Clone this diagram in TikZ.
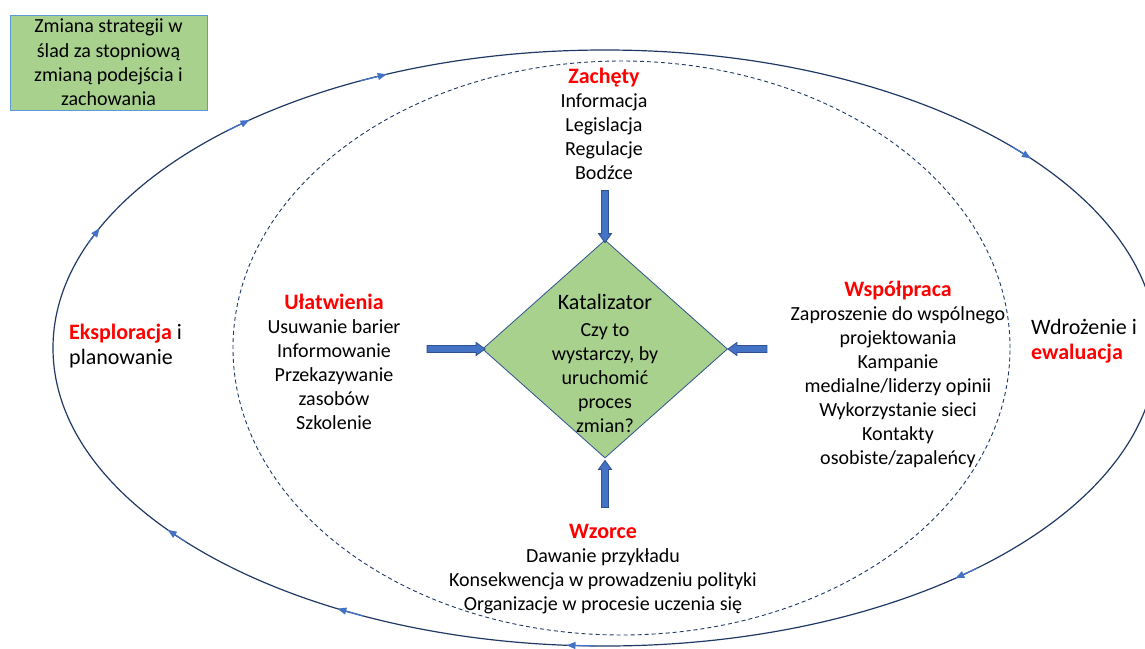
\documentclass[tikz,border=0pt]{standalone}
\usepackage{fontspec}
\setmainfont{Carlito}
\usetikzlibrary{shapes.geometric,arrows.meta,calc}
\definecolor{boxgreen}{HTML}{A9D18E}
\definecolor{boxblue}{HTML}{5B9BD5}
\definecolor{arrblue}{HTML}{4472C4}
\definecolor{arrdark}{HTML}{2F528F}
\definecolor{navy}{HTML}{203864}
\definecolor{hred}{HTML}{FF0000}
\newcommand\headtxt[1]{{\fontsize{22}{24}\selectfont\bfseries\color{hred}#1}}
\begin{document}
\begin{tikzpicture}[x=1pt,y=-1pt,
  body/.style={align=center, font=\fontsize{20}{24}\selectfont, inner sep=0pt},
  outer/.style={align=left, font=\fontsize{22}{25.5}\selectfont, inner sep=0pt, anchor=west},
  bar/.style={draw=arrdark, fill=arrblue, line width=0.8pt, line join=miter},
  cyclehead/.style={arrblue, line width=1.2pt, -{Triangle[length=9pt,width=7pt]}}
]
\clip (0,0) rectangle (1145,648);
\useasboundingbox (0,0) rectangle (1145,648);

% outer cycle
\draw[navy, line width=1.2pt] (605,348) ellipse [x radius=552pt, y radius=298pt];
\foreach \t in {246.7,229.9,203.7,320.5,50.6,94,119,142.4}
  \draw[cyclehead] ({605+552*cos(\t-3)},{348+298*sin(\t-3)}) -- ({605+552*cos(\t)},{348+298*sin(\t)});

% inner dashed ellipse
\draw[navy, line width=0.9pt, dash pattern=on 4pt off 3pt] (621.5,348) ellipse [x radius=388.5pt, y radius=287pt];

% goal box
\node[draw=boxblue, fill=boxgreen, line width=1pt, minimum width=197pt, minimum height=95pt,
  align=center, font=\fontsize{20}{24.3}\selectfont, inner sep=0pt] (goal) at (108.5,62.5)
  {Zmiana strategii w\\ślad za stopniową\\zmianą podejścia i\\zachowania};

% catalyst diamond
\node[diamond, draw=arrdark, fill=boxgreen, line width=0.8pt, minimum width=245pt,
  minimum height=218pt, inner sep=0pt] (cat) at (605,349) {};
\node[body] (cattext) at (605,363)
  {{\fontsize{22}{24}\selectfont Katalizator}\\[3pt]Czy to\\wystarczy, by\\uruchomić\\proces\\zmian?};

% block arrows into the diamond
\draw[bar] ($(cat.north)+(0,3)$) -- ++(-6.5,-9) -- ++(3,0) -- ++(0,-43) -- ++(7,0)
  -- ++(0,43) -- ++(3,0) -- cycle;
\draw[bar] ($(cat.west)+(3,0)$) -- ++(-9,-6.5) -- ++(0,3) -- ++(-49,0) -- ++(0,7)
  -- ++(49,0) -- ++(0,3) -- cycle;
\draw[bar] (cat.east) -- ++(9,-6.5) -- ++(0,3) -- ++(30,0) -- ++(0,7)
  -- ++(-30,0) -- ++(0,3) -- cycle;
\draw[bar] ($(cat.south)+(0,2)$) -- ++(-6.5,9) -- ++(3,0) -- ++(0,38) -- ++(7,0)
  -- ++(0,-38) -- ++(3,0) -- cycle;

% text blocks
\node[body] (zach) at (604,124)
  {\headtxt{Zachęty}\\Informacja\\Legislacja\\Regulacje\\Bodźce};
\node[body] (ulat) at (334,362)
  {\headtxt{Ułatwienia}\\Usuwanie barier\\Informowanie\\Przekazywanie\\zasobów\\Szkolenie};
\node[body] (wspol) at (898,374)
  {\headtxt{Współpraca}\\Zaproszenie do wspólnego\\projektowania\\Kampanie\\medialne/liderzy opinii\\Wykorzystanie sieci\\Kontakty\\osobiste/zapaleńcy};
\node[body] (wzor) at (603,569)
  {\headtxt{Wzorce}\\Dawanie przykładu\\Konsekwencja w prowadzeniu polityki\\Organizacje w procesie uczenia się};

% cycle phase labels
\node[outer] (expl) at (69,346) {\headtxt{Eksploracja} i\\planowanie};
\node[outer] (wdroz) at (1031,341) {Wdrożenie i\\\headtxt{ewaluacja}};
\end{tikzpicture}
\end{document}
